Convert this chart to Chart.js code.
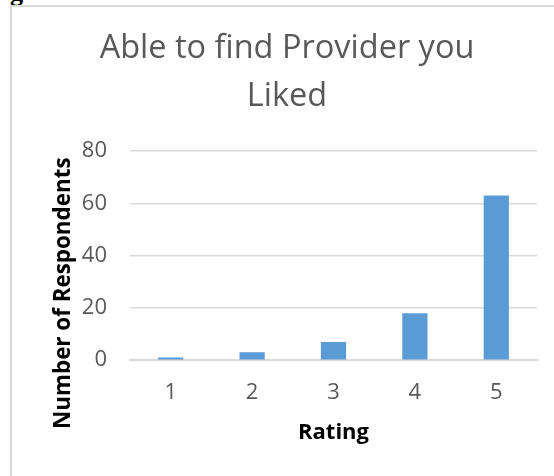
<!DOCTYPE html>
<html>
<head>
<meta charset="utf-8">
<script src="https://cdn.jsdelivr.net/npm/chart.js@4"></script>
<style>
  html, body { margin: 0; padding: 0; background: #fff; }
  body { width: 554px; height: 476px; position: relative; overflow: hidden; }
  .frame {
    position: absolute; left: 10px; top: 5px; width: 560px; height: 480px;
    border-left: 2px solid #d9d9d9; border-top: 2px solid #d9d9d9;
  }
  .cut {
    position: absolute; left: 10px; top: -22px;
    font: bold 26px "Liberation Serif", serif; color: #000;
  }
  .wrap { position: absolute; left: 0; top: 0; width: 554px; height: 476px; }
</style>
</head>
<body>
<div class="cut">g</div>
<div class="frame"></div>
<div class="wrap"><canvas id="chart"></canvas></div>
<script>
const categories = ['1', '2', '3', '4', '5'];
const respondents = [1, 3, 7, 18, 63];
const titleLines = ['Able to find Provider you', 'Liked'];
const yTitle = 'Number of Respondents';
const xTitle = 'Rating';

const grey = '#595959';
const gridColor = '#d9d9d9';

// Excel puts the y title a bit below the middle of the plot, so draw it by hand
const yTitlePlugin = {
    id: 'yTitle',
    afterDraw(chart) {
        const ctx = chart.ctx;
        const area = chart.chartArea;
        ctx.save();
        ctx.translate(64, area.bottom - 67);
        ctx.rotate(-Math.PI / 2);
        ctx.font = 'bold 22.4px "Open Sans"';
        ctx.fillStyle = '#000';
        ctx.textAlign = 'center';
        ctx.textBaseline = 'middle';
        ctx.fillText(yTitle, 0, 0);
        ctx.restore();
    }
};

new Chart(document.getElementById('chart'), {
    type: 'bar',
    data: {
        labels: categories,
        datasets: [{
            label: 'Respondents',
            data: respondents,
            backgroundColor: '#5b9bd5',
            categoryPercentage: 1,
            barPercentage: 0.31
        }]
    },
    plugins: [yTitlePlugin],
    options: {
        responsive: true,
        maintainAspectRatio: false,
        animation: false,
        layout: { padding: { left: 37, right: 17, top: 25, bottom: 30 } },
        plugins: {
            legend: { display: false },
            tooltip: { enabled: false },
            title: {
                display: true,
                text: titleLines,
                color: grey,
                font: { family: 'Open Sans', size: 32.5, weight: 'normal', lineHeight: 1.477 },
                padding: { top: 0, bottom: 30 }
            }
        },
        scales: {
            x: {
                grid: { display: false, drawTicks: false },
                border: { display: true, color: gridColor, width: 2 },
                ticks: { color: grey, font: { family: 'Open Sans', size: 22 }, padding: 19 },
                title: {
                    display: true, text: xTitle, color: '#000',
                    font: { family: 'Open Sans', size: 22, weight: 'bold' },
                    padding: { top: -5, bottom: 0 }
                }
            },
            y: {
                min: 0, max: 80,
                afterFit(scale) { scale.width = 93; },
                ticks: { stepSize: 20, color: grey, font: { family: 'Open Sans', size: 22 }, padding: 23 },
                grid: { color: gridColor, lineWidth: 1.5, drawTicks: false },
                border: { display: false },
                title: { display: false }
            }
        }
    }
});
</script>
</body>
</html>
